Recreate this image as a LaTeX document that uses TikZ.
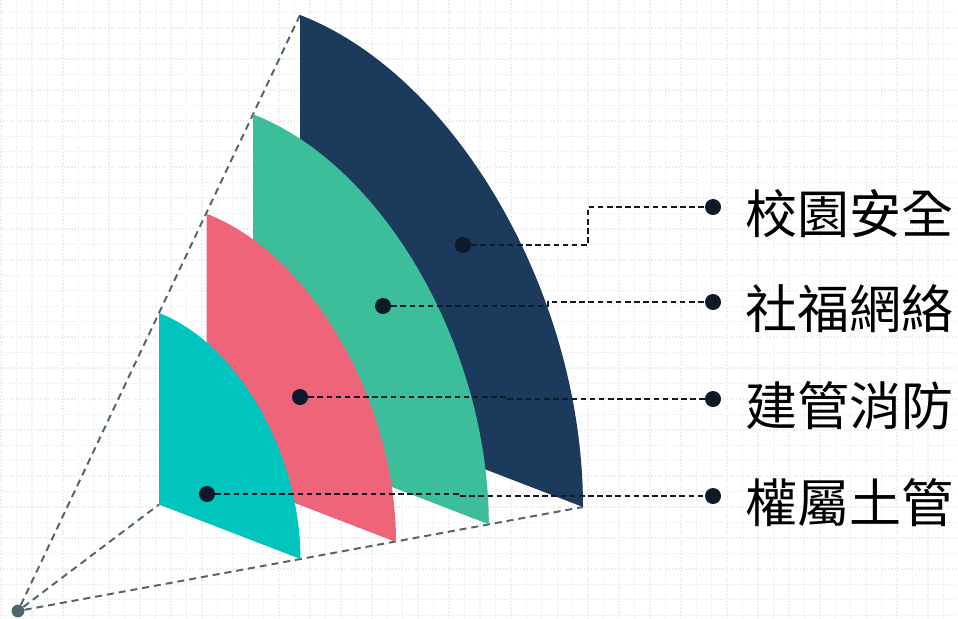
\documentclass[tikz,border=0pt]{standalone}
\usepackage{fontspec}
\setmainfont{Noto Sans CJK TC}
\usetikzlibrary{positioning,calc}
\definecolor{secnavy}{RGB}{27, 58, 92}
\definecolor{secgreen}{RGB}{60, 190, 155}
\definecolor{secpink}{RGB}{238, 101, 121}
\definecolor{secteal}{RGB}{0, 196, 190}
\definecolor{dotdark}{RGB}{12, 26, 42}
\definecolor{guidegray}{RGB}{79, 102, 112}
\definecolor{gridgray}{RGB}{238, 238, 238}

\begin{document}
\begin{tikzpicture}[x=0.025cm, y=-0.025cm,
    dot/.style={circle, fill=dotdark, inner sep=0pt, minimum size=0.4cm},
    guide/.style={draw=guidegray, line width=1.4pt, dash pattern=on 5pt off 3.5pt},
    leader/.style={draw=dotdark, line width=1.1pt, dash pattern=on 4pt off 2.5pt},
    gridline/.style={draw=gridgray, line width=1pt, dash pattern=on 1.2pt off 1.2pt},
    tag/.style={font=\fontsize{37}{42}\selectfont, inner sep=0pt, anchor=west}]
    \useasboundingbox (0,0) rectangle (958,618);

    % Background grid
    \foreach \x in {1,16.45,...,958} \draw[gridline] (\x,0) -- (\x,618);
    \foreach \y in {-2.8,12.65,...,618} \draw[gridline] (0,\y) -- (958,\y);

    % Vanishing lines
    \node[circle, fill=guidegray, inner sep=0pt, minimum size=0.32cm] (apex) at (18,611) {};
    \coordinate (navytop) at (300,15);
    \coordinate (tealfoot) at (159,504.5);
    \coordinate (navytip) at (583,507);
    \draw[guide] (apex) -- (navytop);
    \draw[guide] (apex) -- (tealfoot);
    \draw[guide] (apex) -- (navytip);

    % Sectors, back to front
    \fill[secnavy] (300,15) -- (300,398) -- (583,507) .. controls (583,295.5) and (456.3,75.2) .. (300,15) -- cycle;
    \fill[secgreen] (253,114.3) -- (253,433.5) -- (488.8,524.3) .. controls (488.8,348.1) and (383.3,164.5) .. (253,114.3) -- cycle;
    \fill[secpink] (206.5,213.7) -- (206.5,469) -- (396,542) .. controls (396,400.7) and (310.5,253.8) .. (206.5,213.7) -- cycle;
    \fill[secteal] (159,313) -- (159,504.5) -- (300.5,559) .. controls (300.5,453.3) and (237.2,343.1) .. (159,313) -- cycle;

    % Dots on the sectors
    \node[dot] (d1) at (463,245) {};
    \node[dot] (d2) at (383,306) {};
    \node[dot] (d3) at (300,397) {};
    \node[dot] (d4) at (207,494) {};

    % Labels
    \node[dot] (l1) at (713,207) {};
    \node[dot] (l2) at (713,302) {};
    \node[dot] (l3) at (713,399) {};
    \node[dot] (l4) at (713,496) {};
    \node[tag, right=0.6cm of l1, yshift=-0.17cm] (t1) {校園安全};
    \node[tag, right=0.6cm of l2, yshift=-0.17cm] (t2) {社福網絡};
    \node[tag, right=0.6cm of l3, yshift=-0.17cm] (t3) {建管消防};
    \node[tag, right=0.6cm of l4, yshift=-0.17cm] (t4) {權屬土管};

    % Leaders
    \draw[leader] (d1) -| ($(d1)!0.5!(l1)$) |- (l1);
    \draw[leader] (d2) -| ($(d2)!0.5!(l2)$) |- (l2);
    \draw[leader] (d3) -| ($(d3)!0.5!(l3)$) |- (l3);
    \draw[leader] (d4) -| ($(d4)!0.5!(l4)$) |- (l4);
\end{tikzpicture}
\end{document}
